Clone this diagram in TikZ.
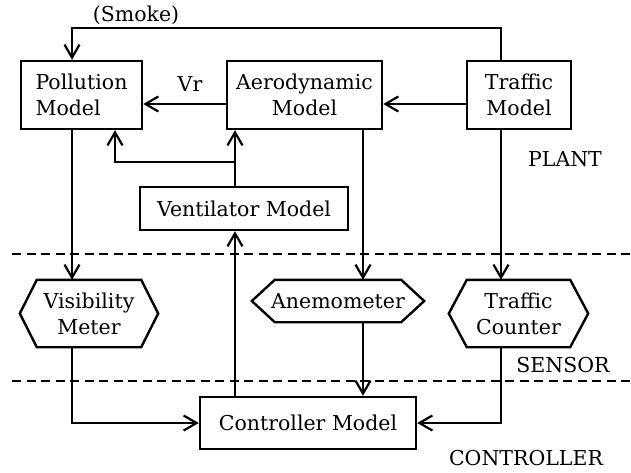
\documentclass[tikz,border=0pt]{standalone}
\usepackage{fontspec}
\setmainfont{DejaVu Serif}
\usepackage{tikz}
\usetikzlibrary{calc}
\usetikzlibrary{arrows.meta}

\begin{document}
\begin{tikzpicture}[
    x=1pt,y=-1pt,
    >={Straight Barb[length=13pt,width=15pt]},
    every node/.style={font=\fontsize{20.5}{26}\selectfont},
    block/.style={draw,line width=2.4pt,align=center,inner sep=0pt},
    sensor/.style={align=center,inner sep=0pt},
    hexa/.style={line width=2.4pt,line join=miter},
    flow/.style={->,line width=2.2pt},
    layer/.style={line width=1.8pt,dash pattern=on 9pt off 5.5pt},
    ]
    \useasboundingbox (0,0) rectangle (631,473);
    % Layer separators
    \draw[layer] (12,254) -- (631,254);
    \draw[layer] (12,381) -- (631,381);

    % Plant blocks
    \node[block,minimum width=121pt,minimum height=68pt,align=left]
        (pollution) at (81.5,95) {Pollution\\Model};
    \node[block,minimum width=155pt,minimum height=68pt]
        (aero) at (304.5,95) {Aerodynamic\\Model};
    \node[block,minimum width=104pt,minimum height=68pt]
        (traffic) at (519,95) {Traffic\\Model};
    \node[block,minimum width=208pt,minimum height=43pt]
        (vent) at (244,208.5) {Ventilator Model};

    % Sensors (hexagons drawn round the nodes)
    \node[sensor,minimum width=138pt,minimum height=67pt]
        (visib) at (89,313.5) {Visibility\\Meter};
    \node[sensor,minimum width=172pt,minimum height=42pt]
        (anemo) at (338,301) {Anemometer};
    \node[sensor,minimum width=139pt,minimum height=67pt]
        (tcount) at (518.5,313.5) {Traffic\\Counter};
    \foreach \n/\d in {visib/17,anemo/23,tcount/18}
        \draw[hexa] (\n.west) -- ($(\n.north west)+(\d,0)$)
            -- ($(\n.north east)+(-\d,0)$) -- (\n.east)
            -- ($(\n.south east)+(-\d,0)$)
            -- ($(\n.south west)+(\d,0)$) -- cycle;

    % Controller
    \node[block,minimum width=216pt,minimum height=52pt]
        (ctrl) at (308,423) {Controller Model};

    % Labels
    \node (smokelabel) at (136,15) {(Smoke)};
    \node (vrlabel) at (190,84) {Vr};
    \node (plantlabel) at (565,159) {PLANT};
    \node (sensorlabel) at (563,365) {SENSOR};
    \node (ctrllabel) at (526,458) {CONTROLLER};

    % Columns of the connectors
    \coordinate (smokeL) at (72,28);
    \coordinate (smokeR) at (501,28);
    \coordinate (vrrow) at (0,104);
    \coordinate (branch) at (235,162);
    \coordinate (polbr) at (115,162);
    \coordinate (aeroX) at (363,0);

    % Smoke feedback
    \draw[flow] (traffic.north -| smokeR) |- (smokeL)
        -- (pollution.north -| smokeL);
    % Plant internal flows
    \draw[flow] (aero.west |- vrrow) -- (pollution.east |- vrrow);
    \draw[flow] (traffic.west |- vrrow) -- (aero.east |- vrrow);
    \draw[flow] (vent.north -| branch) -- (aero.south -| branch);
    \draw[flow] (branch) -| (pollution.south -| polbr);
    % Plant to sensors
    \draw[flow] (pollution.south -| smokeL) -- (visib.north -| smokeL);
    \draw[flow] (aero.south -| aeroX) -- (anemo.north -| aeroX);
    \draw[flow] (traffic.south -| smokeR) -- (tcount.north -| smokeR);
    % Sensors to controller
    \draw[flow] (visib.south -| smokeL) |- (ctrl.west);
    \draw[flow] (anemo.south -| aeroX) -- (ctrl.north -| aeroX);
    \draw[flow] (tcount.south -| smokeR) |- (ctrl.east);
    % Controller to ventilator
    \draw[flow] (ctrl.north -| branch) -- (vent.south -| branch);
\end{tikzpicture}
\end{document}
